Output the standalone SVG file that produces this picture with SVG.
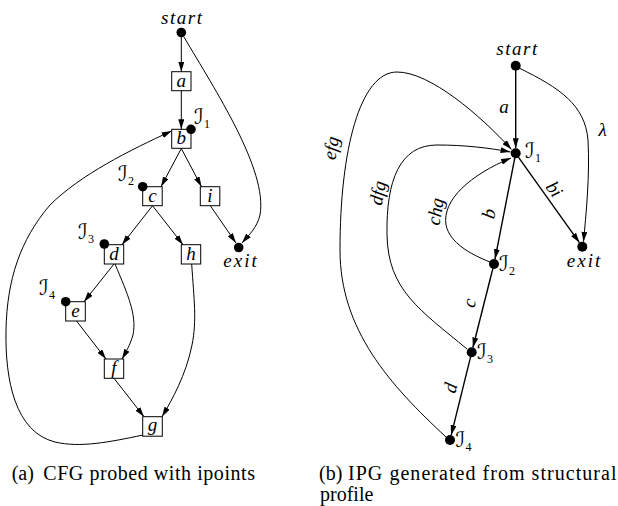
<svg xmlns="http://www.w3.org/2000/svg" width="618" height="506" viewBox="0 0 618 506">
<style>
.m{font-family:"Liberation Serif","Times New Roman",serif;font-style:italic;font-size:19px;fill:#000}
.mc{font-family:"Liberation Serif","Times New Roman",serif;font-style:italic;font-size:19px;fill:#000;text-anchor:middle}
.cal{font-family:"DejaVu Sans",sans-serif;font-style:normal;font-size:21px;fill:#000}
.sub{font-family:"Liberation Serif",serif;font-style:normal;font-size:12px}
.cap{font-family:"Liberation Serif","Times New Roman",serif;font-size:20px;fill:#000}
.box{fill:#fff;stroke:#000;stroke-width:1}
.dot{fill:#000}
.e{fill:none;stroke:#000;stroke-width:1}
.s{fill:none;stroke:#000;stroke-width:1.4}
</style>
<defs>
<marker id="ah" viewBox="0 0 10 6" refX="10" refY="3" markerWidth="10" markerHeight="6" markerUnits="userSpaceOnUse" orient="auto"><path d="M0,0 L10,3 L0,6 Z" fill="#000"/></marker>
</defs>

<!-- (a) connectors -->
<g id="connectors-a">
<path class="e" d="M181.3,37 L181.3,71.7" marker-end="url(#ah)"/>
<path class="e" d="M181.3,90.7 L181.3,129.3" marker-end="url(#ah)"/>
<path class="e" d="M184,37 C215,90 268,170 260,215 C257,228 248,236 242,243" marker-end="url(#ah)"/>
<path class="e" d="M181.3,148.5 L161,186.7" marker-end="url(#ah)"/>
<path class="e" d="M181.3,148.5 L201.5,186.7" marker-end="url(#ah)"/>
<path class="e" d="M210.3,205.7 L236,243" marker-end="url(#ah)"/>
<path class="e" d="M152.5,205.7 L122,244.7" marker-end="url(#ah)"/>
<path class="e" d="M152.5,205.7 L183,244.7" marker-end="url(#ah)"/>
<path class="e" d="M114,264 L84,301.7" marker-end="url(#ah)"/>
<path class="e" d="M115,264 C128,295 137,315 133,335 C130,345 126,352 122,359" marker-end="url(#ah)"/>
<path class="e" d="M76.5,321 L106,359" marker-end="url(#ah)"/>
<path class="e" d="M114,378.3 L144,416.7" marker-end="url(#ah)"/>
<path class="e" d="M191.7,264 C194,300 197,320 192,345 C186,375 172,400 162,416.7" marker-end="url(#ah)"/>
<path class="e" d="M143,435 C110,442 80,448 55,442 C15,432 5,380 6,330 C7,280 20,240 50,205 C80,175 130,150 171.7,131" marker-end="url(#ah)"/>
</g>

<!-- (a) nodes -->
<g id="a-start"><text class="mc" x="181.5" y="24" textLength="41">start</text><circle class="dot" cx="181.3" cy="32.5" r="4.8"/></g>
<g id="a-a"><rect class="box" x="171.7" y="71.7" width="19.3" height="19"/><text class="mc" x="181.3" y="86.5">a</text></g>
<g id="a-b"><rect class="box" x="171.7" y="129.3" width="19.3" height="19"/><text class="mc" x="181.3" y="144">b</text><circle class="dot" cx="191" cy="129.3" r="4.8"/><text class="cal" x="194" y="124">ℐ<tspan class="sub" dy="4">1</tspan></text></g>
<g id="a-c"><rect class="box" x="142.7" y="186.7" width="19.5" height="19"/><text class="mc" x="152.5" y="201.5">c</text><circle class="dot" cx="142.7" cy="186.7" r="4.8"/><text class="cal" x="118" y="181">ℐ<tspan class="sub" dy="4">2</tspan></text></g>
<g id="a-i"><rect class="box" x="200.3" y="186.7" width="19.5" height="19"/><text class="mc" x="210" y="201.5">i</text></g>
<g id="a-exit"><circle class="dot" cx="238.7" cy="247.5" r="4.8"/><text class="mc" x="240" y="267" textLength="33.7">exit</text></g>
<g id="a-d"><rect class="box" x="104.3" y="244.7" width="19.4" height="19.3"/><text class="mc" x="114" y="259.5">d</text><circle class="dot" cx="104.3" cy="244" r="4.8"/><text class="cal" x="78" y="239">ℐ<tspan class="sub" dy="4">3</tspan></text></g>
<g id="a-h"><rect class="box" x="181.3" y="244.7" width="19.4" height="19.3"/><text class="mc" x="191" y="259.5">h</text></g>
<g id="a-e"><rect class="box" x="65.7" y="301.7" width="19.6" height="19.3"/><text class="mc" x="75.5" y="316.5">e</text><circle class="dot" cx="65.7" cy="301.7" r="4.8"/><text class="cal" x="39" y="295">ℐ<tspan class="sub" dy="4">4</tspan></text></g>
<g id="a-f"><rect class="box" x="104.3" y="359" width="19.4" height="19.3"/><text class="mc" x="114" y="374">f</text></g>
<g id="a-g"><rect class="box" x="142.7" y="416.7" width="19.6" height="19.5"/><text class="mc" x="152.5" y="431">g</text></g>

<!-- (b) connectors -->
<g id="connectors-b">
<path class="s" d="M515.7,66 L515.7,148.3" marker-end="url(#ah)"/>
<path class="e" d="M519,68 C560,88 585,105 588,140 C590,175 586,215 583.5,241.7" marker-end="url(#ah)"/>
<path class="s" d="M515.7,153.3 L495,259.1" marker-end="url(#ah)"/>
<path class="s" d="M494,264 L472.9,347.5" marker-end="url(#ah)"/>
<path class="s" d="M471.7,352.3 L451.2,435.1" marker-end="url(#ah)"/>
<path class="s" d="M515.7,153.3 L579.4,242.6" marker-end="url(#ah)"/>
<path class="e" d="M446,437 C390,385 340,330 340,250 C340,150 360,72 397,72 C430,72 480,115 511.5,149.5" marker-end="url(#ah)"/>
<path class="e" d="M467,349 C420,310 388,290 387,235 C386,180 400,145 437,145 C465,145 490,148 510.5,152" marker-end="url(#ah)"/>
<path class="e" d="M490,262 C470,254 450,243 446,225 C442,200 470,175 511,158" marker-end="url(#ah)"/>
<text class="mc" x="504" y="113">a</text>
<text class="mc" x="602.7" y="136">λ</text>
<text class="mc" transform="translate(553.3,190) rotate(54.5)" y="5">bi</text>
<text class="mc" transform="translate(490,214) rotate(-78.9)" y="5">b</text>
<text class="mc" transform="translate(470.5,303.3) rotate(-75.8)" y="5">c</text>
<text class="mc" transform="translate(451.5,388.3) rotate(-76.1)" y="5">d</text>
<text class="mc" transform="translate(332.3,148.3) rotate(-80)" y="5">efg</text>
<text class="mc" transform="translate(379,193.3) rotate(-80)" y="5">dfg</text>
<text class="mc" transform="translate(436.7,211.7) rotate(-80)" y="5">chg</text>
</g>

<!-- (b) nodes -->
<g id="b-start"><text class="mc" x="516.7" y="55" textLength="41">start</text><circle class="dot" cx="515.7" cy="65.7" r="5"/></g>
<g id="b-I1"><circle class="dot" cx="515.7" cy="153.3" r="5"/><text class="cal" x="525" y="158">ℐ<tspan class="sub" dy="4">1</tspan></text></g>
<g id="b-exit"><circle class="dot" cx="582.3" cy="246.7" r="5"/><text class="mc" x="583.5" y="267" textLength="33.7">exit</text></g>
<g id="b-I2"><circle class="dot" cx="494" cy="264" r="5"/><text class="cal" x="499" y="271">ℐ<tspan class="sub" dy="4">2</tspan></text></g>
<g id="b-I3"><circle class="dot" cx="471.7" cy="352.3" r="5"/><text class="cal" x="477" y="359">ℐ<tspan class="sub" dy="4">3</tspan></text></g>
<g id="b-I4"><circle class="dot" cx="450" cy="440" r="5"/><text class="cal" x="455.5" y="447">ℐ<tspan class="sub" dy="4">4</tspan></text></g>

<!-- captions -->
<text class="cap" x="11.7" y="479.5">(a)</text>
<text class="cap" x="43.3" y="479.5" textLength="211.7">CFG probed with ipoints</text>
<text class="cap" x="319" y="479.5">(b)</text>
<text class="cap" x="348" y="479.5" textLength="268.5">IPG generated from structural</text>
<text class="cap" x="320" y="501">profile</text>
</svg>
